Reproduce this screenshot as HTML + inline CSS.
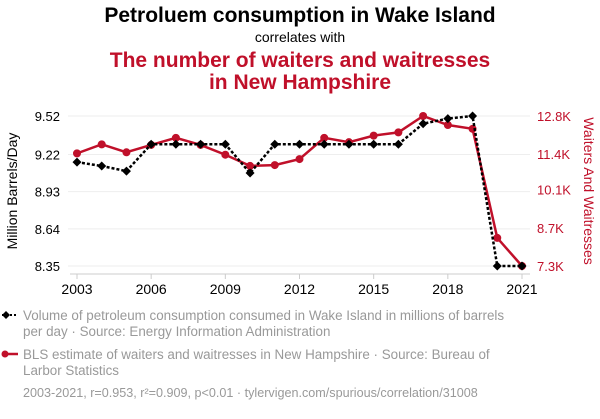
<!DOCTYPE html>
<html><head><meta charset="utf-8">
<style>
body{margin:0;background:#fff;font-family:"Liberation Sans",sans-serif;}
svg text{font-family:"Liberation Sans",sans-serif;}
</style></head>
<body>
<svg id="chart" width="600" height="414" xmlns="http://www.w3.org/2000/svg">
<text x="300" y="22" text-anchor="middle" font-size="21" font-weight="bold" fill="#000">Petroluem consumption in Wake Island</text>
<text x="300" y="42" text-anchor="middle" font-size="14" fill="#000">correlates with</text>
<text x="300" y="67" text-anchor="middle" font-size="21" font-weight="bold" fill="#c0102a">The number of waiters and waitresses</text>
<text x="300" y="89" text-anchor="middle" font-size="21" font-weight="bold" fill="#c0102a">in New Hampshire</text>
<text transform="translate(17,191) rotate(-90)" text-anchor="middle" font-size="14" fill="#000">Million Barrels/Day</text>
<text transform="translate(584,191) rotate(90)" text-anchor="middle" font-size="14" fill="#c0102a">Waiters And Waitresses</text>
<g id="grid"></g><g id="axes"></g><g id="series"></g>
<g>
<line x1="2" y1="315" x2="18" y2="315" stroke="#000" stroke-width="2" stroke-dasharray="2,2"/>
<path d="M2,315 l4,-4 l4,4 l-4,4z" fill="#000"/>
<text x="23" y="320" font-size="13.4" fill="#999">Volume of petroleum consumption consumed in Wake Island in millions of barrels</text>
<text x="23" y="336" font-size="13.4" fill="#999">per day · Source: Energy Information Administration</text>
<line x1="3" y1="354" x2="18" y2="354" stroke="#c0102a" stroke-width="2.5"/>
<circle cx="5" cy="354" r="3.5" fill="#c0102a"/>
<text x="23" y="359" font-size="13.4" fill="#999">BLS estimate of waiters and waitresses in New Hampshire · Source: Bureau of</text>
<text x="23" y="375" font-size="13.4" fill="#999">Larbor Statistics</text>
<text x="23" y="397" font-size="12.6" fill="#999">2003-2021, r=0.953, r²=0.909, p&lt;0.01 · tylervigen.com/spurious/correlation/31008</text>
</g>
</svg>
<script>
const years=[2003,2004,2005,2006,2007,2008,2009,2010,2011,2012,2013,2014,2015,2016,2017,2018,2019,2020,2021];
const petroleum=[9.16,9.13,9.09,9.30,9.30,9.30,9.30,9.075,9.30,9.30,9.30,9.30,9.30,9.30,9.46,9.50,9.52,8.35,8.35];
const waiters=[11.43,11.76,11.47,11.74,12.0,11.74,11.38,10.97,11.0,11.22,12.0,11.84,12.08,12.2,12.8,12.47,12.33,8.33,7.3];
const leftTicks=[8.35,8.64,8.93,9.22,9.52];
const leftTickLabels=["8.35","8.64","8.93","9.22","9.52"];
const rightTicks=[7.3,8.7,10.1,11.4,12.8];
const rightTickLabels=["7.3K","8.7K","10.1K","11.4K","12.8K"];
const xTicks=[2003,2006,2009,2012,2015,2018,2021];

const NS="http://www.w3.org/2000/svg";
const X0=77,X1=522,Y0=266,Y1=116;
const x=y=>X0+(y-2003)/(2021-2003)*(X1-X0);
const yL=v=>Y0-(v-8.35)/(9.52-8.35)*(Y0-Y1);
const yR=v=>Y0-(v-7.3)/(12.8-7.3)*(Y0-Y1);
function mk(tag,attrs,parent){const e=document.createElementNS(NS,tag);for(const k in attrs)e.setAttribute(k,attrs[k]);parent.appendChild(e);return e;}
const grid=document.getElementById('grid'),axes=document.getElementById('axes'),series=document.getElementById('series');

leftTicks.forEach((t,i)=>{
  const g=mk('line',{x1:68,x2:530,y1:yL(t),y2:yL(t),stroke:'#eee','stroke-width':1},grid);
  
  
  const l=mk('text',{x:60,y:yL(t)+5,'text-anchor':'end','font-size':13,fill:'#000'},axes);
  l.textContent=leftTickLabels[i];
  
  
});
rightTicks.forEach((t,i)=>{
  const l=mk('text',{x:537,y:yR(t)+5,'font-size':13,fill:'#c0102a'},axes);
  l.textContent=rightTickLabels[i];
  
  
});
const xa=mk('line',{x1:70,x2:530,y1:274,y2:274,stroke:'#ccc','stroke-width':1},axes);


xTicks.forEach(t=>{
  mk('line',{x1:x(t),x2:x(t),y1:274,y2:279,stroke:'#ccc'},axes);
  const l=mk('text',{x:x(t),y:294,'text-anchor':'middle','font-size':14,fill:'#000'},axes);
  l.textContent=String(t);
  
  
});

const rp=mk('polyline',{points:years.map((y,i)=>x(y)+','+yR(waiters[i])).join(' '),fill:'none',stroke:'#c0102a','stroke-width':2.5},series);


years.forEach((y,i)=>{
  const c=mk('circle',{cx:x(y),cy:yR(waiters[i]),r:4,fill:'#c0102a'},series);
  
  
});
const bp=mk('polyline',{points:years.map((y,i)=>x(y)+','+yL(petroleum[i])).join(' '),fill:'none',stroke:'#000','stroke-width':2.5,'stroke-dasharray':'3,2'},series);


years.forEach((y,i)=>{
  const cx=x(y),cy=yL(petroleum[i]);
  const d=mk('path',{d:`M${cx-4.5},${cy} L${cx},${cy-4.5} L${cx+4.5},${cy} L${cx},${cy+4.5}Z`,fill:'#000'},series);
  
  
});
</script>
</body></html>
